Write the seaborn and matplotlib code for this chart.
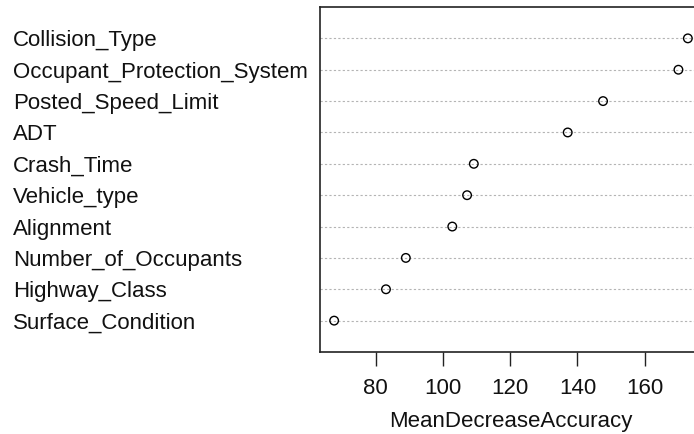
import matplotlib
matplotlib.use("Agg")
import matplotlib.pyplot as plt
import seaborn as sns
import pandas as pd

# Variable importance from the random forest, listed top to bottom
variables = [
    "Collision_Type",
    "Occupant_Protection_System",
    "Posted_Speed_Limit",
    "ADT",
    "Crash_Time",
    "Vehicle_type",
    "Alignment",
    "Number_of_Occupants",
    "Highway_Class",
    "Surface_Condition",
]
mean_decrease_accuracy = [172.8, 170.0, 147.6, 137.1, 109.2, 107.2, 102.8, 89.0, 83.1, 67.7]
x_ticks = [80, 100, 120, 140, 160]

n = len(variables)
df = pd.DataFrame({
    "variable": variables,
    "MeanDecreaseAccuracy": mean_decrease_accuracy,
    "row": list(range(n, 0, -1)),
})

sns.set_style("white")
plt.rcParams["font.family"] = ["Liberation Sans", "DejaVu Sans"]
plt.rcParams["text.color"] = "#111111"
plt.rcParams["axes.labelcolor"] = "#111111"
plt.rcParams["xtick.color"] = "#111111"
plt.rcParams["ytick.color"] = "#111111"

W, H = 694, 434
fig = plt.figure(figsize=(W / 100, H / 100), dpi=100)
left, right, top, bottom = 320, 702, 7, 352
ax = fig.add_axes([left / W, 1 - bottom / H, (right - left) / W, (bottom - top) / H])

# dotted guide line for every variable
for r in df["row"]:
    ax.axhline(r, color="#b4b4b4", lw=0.8, ls=(0, (2, 2)), zorder=1)

sns.scatterplot(data=df, x="MeanDecreaseAccuracy", y="row", ax=ax,
                marker="o", s=38, facecolor="none", edgecolor="black",
                linewidth=1.0, zorder=3)

lo, hi = min(mean_decrease_accuracy), max(mean_decrease_accuracy)
pad = 0.04 * (hi - lo)
ax.set_xlim(lo - pad, hi + pad)
ax.set_ylim(0, n + 1)

ax.set_xticks(x_ticks)
ax.set_xticklabels([str(t) for t in x_ticks])
ax.tick_params(axis="x", direction="out", length=10, width=1.0, color="#222222",
               labelsize=16, pad=9, bottom=True)

ax.set_yticks(df["row"])
ax.set_yticklabels(df["variable"], ha="left")
ax.tick_params(axis="y", length=0, labelsize=16, pad=(left - 13) * 0.72)

ax.set_xlabel("MeanDecreaseAccuracy", fontsize=16, labelpad=8)
ax.set_ylabel("")

for s in ax.spines.values():
    s.set_visible(True)
    s.set_color("#222222")
    s.set_linewidth(1.2)

fig.savefig("out.png", dpi=100)
